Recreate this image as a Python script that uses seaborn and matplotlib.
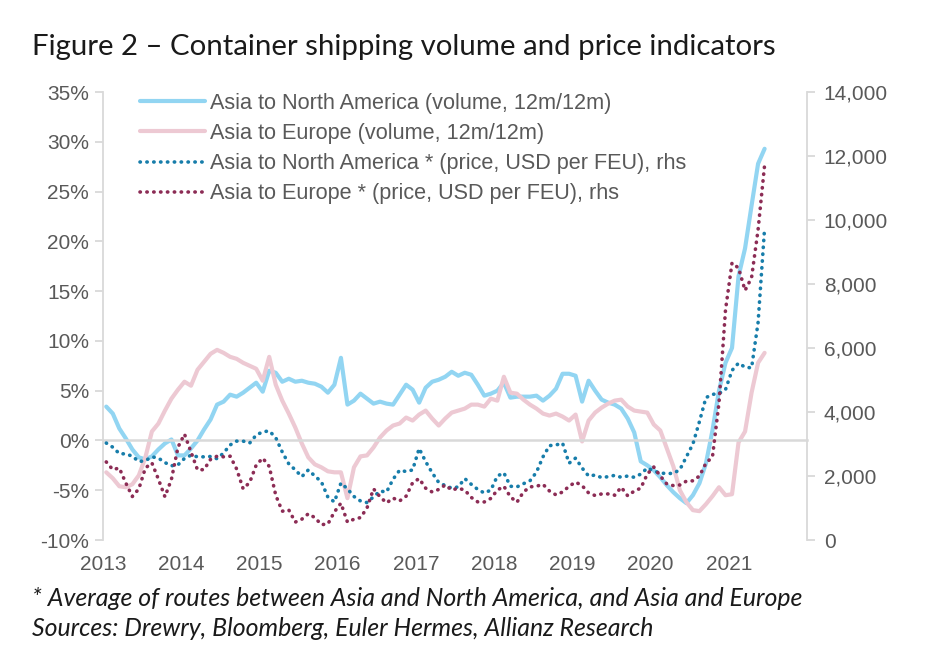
import numpy as np
import pandas as pd
import matplotlib
matplotlib.use("Agg")
import matplotlib.pyplot as plt
from matplotlib.lines import Line2D
import seaborn as sns

# ---------------- data (monthly, Jan 2013 - Jun 2021) ----------------
start_year = 2013
na_volume = [3.4, 2.7, 1.2, 0.2, -0.9, -1.7, -1.9, -1.6, -0.9, -0.3, 0.1, -1.5,
             -1.5, -0.8, 0.0, 1.1, 2.1, 3.6, 3.9, 4.6, 4.4, 4.8, 5.3, 5.8,
             4.9, 7.0, 6.8, 5.9, 6.2, 5.9, 6.0, 5.8, 5.7, 5.4, 4.8, 5.6,
             8.3, 3.6, 4.0, 4.7, 4.2, 3.7, 3.9, 3.7, 3.6, 4.6, 5.6, 5.1,
             3.8, 5.3, 5.9, 6.1, 6.4, 6.9, 6.5, 6.8, 6.6, 5.6, 4.5, 4.7,
             5.0, 5.8, 4.3, 4.4, 4.4, 4.4, 4.5, 4.0, 4.5, 5.2, 6.7, 6.7,
             6.5, 3.9, 6.0, 5.0, 4.1, 3.8, 3.6, 3.2, 2.2, 0.8, -2.1, -2.5,
             -3.0, -3.7, -4.5, -5.2, -5.8, -6.3, -5.5, -4.3, -2.3, 1.0, 5.0, 7.8,
             9.3, 16.5, 19.3, 23.6, 27.8, 29.3]
eu_volume = [-3.2, -3.8, -4.6, -4.7, -4.4, -3.5, -1.7, 0.9, 1.7, 3.0, 4.2, 5.1,
             5.9, 5.5, 7.1, 7.9, 8.7, 9.1, 8.8, 8.4, 8.2, 7.8, 7.5, 7.2,
             6.0, 8.4, 5.6, 4.0, 2.7, 1.3, -0.3, -1.7, -2.4, -2.7, -3.1, -3.2,
             -3.2, -5.8, -2.7, -1.6, -1.5, -0.7, 0.3, 1.0, 1.5, 1.7, 2.3, 2.0,
             2.6, 3.0, 2.2, 1.5, 2.2, 2.8, 3.0, 3.2, 3.6, 3.6, 3.4, 4.2,
             4.0, 6.4, 4.8, 4.7, 4.1, 3.6, 3.2, 2.7, 2.5, 2.7, 2.4, 2.0,
             2.6, -0.1, 2.0, 2.8, 3.3, 3.7, 4.0, 4.1, 3.4, 3.0, 2.9, 2.8,
             1.6, 1.0, -0.8, -2.6, -5.0, -6.2, -7.0, -7.1, -6.4, -5.6, -4.7, -5.5,
             -5.4, -0.2, 0.9, 4.8, 7.8, 8.8]
na_price = [3030, 2900, 2700, 2690, 2620, 2450, 2480, 2600, 2560, 2420, 2320, 2350,
            2550, 2650, 2600, 2600, 2610, 2540, 2720, 2970, 3090, 3090, 3030, 3280,
            3380, 3410, 3200, 2750, 2380, 2190, 1980, 2190, 2000, 1820, 1340, 1190,
            1780, 1600, 1360, 1220, 1170, 1350, 1530, 1500, 1900, 2180, 2140, 2190,
            2860, 2450, 2100, 1800, 1700, 1620, 1660, 1920, 1740, 1580, 1470, 1560,
            2000, 2100, 1680, 1660, 1760, 1850, 2120, 2600, 2950, 2970, 3030, 2400,
            2560, 2250, 2000, 2030, 1950, 1980, 2020, 1960, 2000, 1960, 2060, 2250,
            2160, 2090, 2080, 2080, 2200, 2600, 3000, 3700, 4450, 4550, 4580, 4700,
            5300, 5530, 5400, 5380, 6800, 9750]
eu_price = [2440, 2200, 2250, 1780, 1360, 1600, 2250, 2410, 1900, 1350, 1900, 2900,
            3310, 2750, 2190, 2200, 2520, 2620, 2600, 2620, 2220, 1600, 1800, 2340,
            2560, 2300, 1400, 900, 940, 560, 650, 820, 700, 480, 500, 880,
            1150, 560, 650, 700, 1000, 1600, 1350, 1160, 1310, 1220, 1370, 1790,
            1920, 1620, 1500, 1580, 1720, 1560, 1620, 1560, 1330, 1190, 1190, 1300,
            1560, 1680, 1350, 1180, 1500, 1660, 1680, 1740, 1530, 1410, 1500, 1680,
            1810, 1700, 1470, 1390, 1440, 1440, 1400, 1650, 1380, 1530, 1620, 2060,
            2280, 2000, 1750, 1700, 1720, 1840, 1850, 2000, 2400, 2600, 4280, 7190,
            8660, 8500, 7800, 8200, 9700, 11720]
year_labels = [str(y) for y in range(2013, 2022)]
labels = ["Asia to North America (volume, 12m/12m)",
          "Asia to Europe (volume, 12m/12m)",
          "Asia to North America * (price, USD per FEU), rhs",
          "Asia to Europe * (price, USD per FEU), rhs"]
title = "Figure 2 \u2013 Container shipping volume and price indicators"
note1 = "* Average of routes between Asia and North America, and Asia and Europe"
note2 = "Sources: Drewry, Bloomberg, Euler Hermes, Allianz Research"

n = len(na_volume)
t = start_year + (np.arange(n) + 0.5) / 12.0
df = pd.DataFrame({"t": t, "na_vol": na_volume, "eu_vol": eu_volume,
                   "na_price": na_price, "eu_price": eu_price})

# ---------------- style ----------------
sns.set_style("white")
plt.rcParams["font.family"] = ["Liberation Sans", "DejaVu Sans"]

c_navol = "#92D5F2"
c_euvol = "#EDC9D3"
c_napr = "#177DAA"
c_eupr = "#8C2C55"
grid_c = "#D9D9D9"
txt_c = "#595959"
fs = 15

fig = plt.figure(figsize=(9.39, 6.63), dpi=100)
ax = fig.add_axes([0.1097, 0.1855, 0.7497, 0.6757])
ax2 = ax.twinx()

sns.lineplot(data=df, x="t", y="na_vol", ax=ax, color=c_navol, lw=3.0)
sns.lineplot(data=df, x="t", y="eu_vol", ax=ax, color=c_euvol, lw=3.0)
dot = (0, (0.1, 1.8))
sns.lineplot(data=df, x="t", y="na_price", ax=ax2, color=c_napr, lw=2.6,
             linestyle=dot, dash_capstyle="round")
sns.lineplot(data=df, x="t", y="eu_price", ax=ax2, color=c_eupr, lw=2.6,
             linestyle=dot, dash_capstyle="round")

ax.set_xlim(2013, 2022)
ax.set_ylim(-10, 35)
ax2.set_ylim(0, 14000)
ax.set_xlabel("")
ax.set_ylabel("")
ax2.set_ylabel("")

ax.set_yticks(np.arange(-10, 36, 5))
ax.set_yticklabels([f"{v}%" for v in range(-10, 36, 5)])
ax2.set_yticks(np.arange(0, 14001, 2000))
ax2.set_yticklabels([f"{v:,}" for v in range(0, 14001, 2000)])

for a in (ax, ax2):
    for s in a.spines.values():
        s.set_visible(False)
ax.spines["left"].set_visible(True)
ax.spines["left"].set_color(grid_c)
ax.spines["left"].set_linewidth(1.3)
ax2.spines["right"].set_visible(True)
ax2.spines["right"].set_color(grid_c)
ax2.spines["right"].set_linewidth(1.3)
ax.spines["bottom"].set_visible(True)
ax.spines["bottom"].set_position(("data", 0))
ax.spines["bottom"].set_color(grid_c)
ax.spines["bottom"].set_linewidth(1.8)

ax.tick_params(axis="y", direction="out", length=6, width=1.3, color=grid_c,
               labelcolor=txt_c, labelsize=fs, pad=4)
ax2.tick_params(axis="y", direction="out", length=6, width=1.3, color=grid_c,
                labelcolor=txt_c, labelsize=fs, pad=6)
ax.set_xticks(np.arange(2013, 2023))
ax.tick_params(axis="x", direction="out", length=7, width=1.3, color=grid_c,
               labelbottom=False)

sec = ax.secondary_xaxis("bottom")
sec.set_xticks(np.arange(2013, 2022))
sec.set_xticklabels(year_labels)
sec.tick_params(length=0, labelsize=fs, labelcolor=txt_c, pad=11)
for s in sec.spines.values():
    s.set_visible(False)

handles = [Line2D([], [], color=c_navol, lw=3.0),
           Line2D([], [], color=c_euvol, lw=3.0),
           Line2D([], [], color=c_napr, lw=2.6, linestyle=dot, dash_capstyle="round"),
           Line2D([], [], color=c_eupr, lw=2.6, linestyle=dot, dash_capstyle="round")]
leg = ax2.legend(handles, labels, loc="upper left", bbox_to_anchor=(0.052, 0.998),
                 frameon=False, fontsize=15.6, handlelength=3.0, handletextpad=0.25,
                 labelspacing=0.42, borderpad=0, borderaxespad=0)
for tx in leg.get_texts():
    tx.set_color(txt_c)

fig.text(0.034, 1 - 47 / 663, title, fontsize=21.2, color="#1a1a1a",
         family=["Lato", "DejaVu Sans"], va="center", ha="left")
fig.text(0.034, 1 - 599 / 663, note1, fontsize=17.9, color="#1a1a1a",
         family=["Lato", "DejaVu Sans"], style="italic", va="center", ha="left")
fig.text(0.034, 1 - 629 / 663, note2, fontsize=17.9, color="#1a1a1a",
         family=["Lato", "DejaVu Sans"], style="italic", va="center", ha="left")

fig.savefig("out.png", dpi=100)
